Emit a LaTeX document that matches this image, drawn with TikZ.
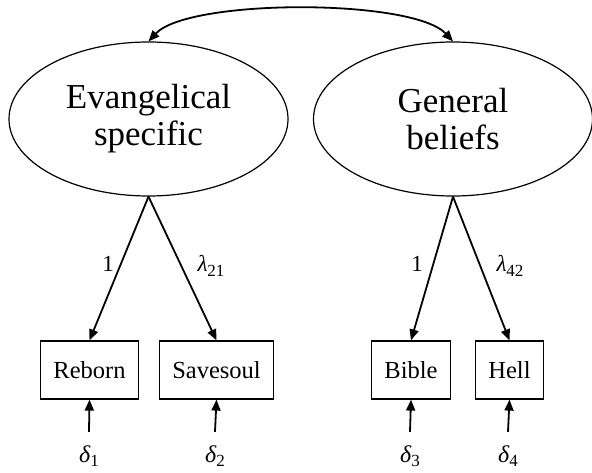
\documentclass[tikz,border=0pt]{standalone}
\usepackage{fontspec}
\setmainfont{Liberation Serif}
\usetikzlibrary{shapes.geometric,arrows.meta}
% lowered index for coefficient and error labels
\newcommand\lowidx[1]{\raisebox{-4.5pt}{\fontsize{17}{17}\selectfont #1}}
\begin{document}
\begin{tikzpicture}[x=1pt,y=-1pt,
  >={Triangle[length=11pt,width=9pt]},
  latent/.style={draw, ellipse, line width=1.2pt, minimum width=279pt,
    minimum height=154pt, inner sep=0pt, align=center,
    font=\fontsize{35}{37}\selectfont},
  observed/.style={draw, rectangle, line width=1.2pt, minimum height=58pt,
    inner xsep=13pt, font=\fontsize{24.5}{24.5}\selectfont},
  load/.style={->, line width=1.8pt},
  coef/.style={inner sep=0pt, font=\fontsize{23}{23}\selectfont},
  err/.style={anchor=base, inner xsep=0pt, inner ysep=13pt, text height=17pt,
    text depth=4pt, font=\fontsize{24}{24}\selectfont},
]
\useasboundingbox[fill=white] (0,0) rectangle (592,473);

% latent factors
\node[latent] (ev) at (148.5,119) {Evangelical\\specific};
\node[latent] (gb) at (453,119) {General\\beliefs};

% indicators
\node[observed] (reborn) at (89.5,370) {Reborn};
\node[observed] (save)   at (216.5,370) {Savesoul};
\node[observed] (bible)  at (411,370) {Bible};
\node[observed] (hell)   at (509.5,370) {Hell};

% factor covariance
\draw[<->, line width=1.8pt]
  (ev.north) .. controls +(40,-43) and +(-40,-43) .. (gb.north);

% loadings
\draw[load] (ev.south) -- (reborn.north);
\draw[load] (ev.south) -- (save.north);
\draw[load] (gb.south) -- (bible.north);
\draw[load] (gb.south) -- (hell.north);

\node[coef] (c11) at (108,264) {1};
\node[coef] (c21) at (211,266) {\textit{λ}\lowidx{21}};
\node[coef] (c32) at (417,264) {1};
\node[coef] (c42) at (510,266) {\textit{λ}\lowidx{42}};

% measurement errors
\node[err] (d1) at (89,462)  {\textit{δ}\lowidx{1}};
\node[err] (d2) at (215,462) {\textit{δ}\lowidx{2}};
\node[err] (d3) at (410,462) {\textit{δ}\lowidx{3}};
\node[err] (d4) at (508,462) {\textit{δ}\lowidx{4}};

\draw[load] (d1.north) -- (reborn.south);
\draw[load] (d2.north) -- (save.south);
\draw[load] (d3.north) -- (bible.south);
\draw[load] (d4.north) -- (hell.south);
\end{tikzpicture}
\end{document}
